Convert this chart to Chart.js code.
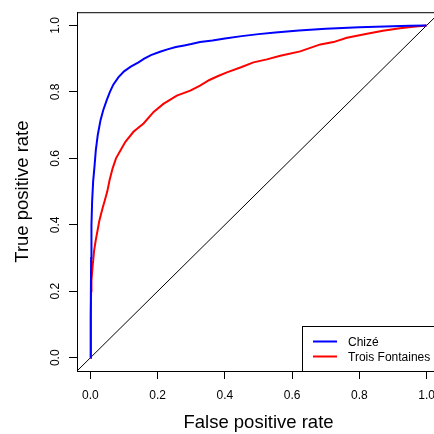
<!DOCTYPE html>
<html>
<head>
<meta charset="utf-8">
<script src="https://cdn.jsdelivr.net/npm/chart.js@4.4.1/dist/chart.umd.min.js"></script>
<style>
html, body { margin: 0; padding: 0; overflow: hidden; background: #fff; width: 434px; height: 434px; }
canvas { position: absolute; left: 0; top: 0; }
</style>
</head>
<body>
<canvas id="roc" width="450" height="434"></canvas>
<script>
// ROC curves, values
var chizeFpr = [0, 0.001, 0.002, 0.003, 0.005, 0.008, 0.012, 0.016, 0.022, 0.030, 0.038, 0.049, 0.058, 0.068, 0.083,
  0.10, 0.12, 0.143, 0.16, 0.18, 0.207, 0.229, 0.254, 0.279, 0.30, 0.326, 0.363, 0.40, 0.45, 0.50, 0.55, 0.62, 0.70, 0.80, 0.90, 0.95, 1];
var chizeTpr = [0, 0.15, 0.30, 0.40, 0.47, 0.53, 0.575, 0.625, 0.672, 0.715, 0.745, 0.777, 0.80, 0.822, 0.844,
  0.862, 0.876, 0.889, 0.900, 0.911, 0.921, 0.928, 0.935, 0.940, 0.944, 0.950, 0.955, 0.961, 0.968, 0.974, 0.979, 0.985, 0.990, 0.995, 0.998, 0.999, 1];

var troisFpr = [0, 0.001, 0.002, 0.003, 0.006, 0.011, 0.016, 0.021, 0.026, 0.031, 0.036, 0.042, 0.05, 0.057, 0.066, 0.076, 0.09,
  0.104, 0.128, 0.158, 0.188, 0.217, 0.257, 0.297, 0.326, 0.354, 0.38, 0.406, 0.45, 0.485, 0.525, 0.565, 0.624,
  0.684, 0.723, 0.763, 0.823, 0.87, 0.921, 0.96, 1];
var troisTpr = [0, 0.12, 0.20, 0.233, 0.27, 0.323, 0.355, 0.382, 0.41, 0.43, 0.45, 0.471, 0.50, 0.535, 0.57, 0.60, 0.625,
  0.65, 0.68, 0.705, 0.74, 0.764, 0.789, 0.804, 0.819, 0.836, 0.848, 0.859, 0.875, 0.889, 0.898, 0.909, 0.922,
  0.943, 0.950, 0.963, 0.975, 0.984, 0.992, 0.996, 1];

// abline(0, 1) across the whole plot region
var diagX = [-0.04, 1.04];
var diagY = [-0.04, 1.04];

var tickVals = [0, 0.2, 0.4, 0.6, 0.8, 1.0];
var seriesNames = ["Chizé", "Trois Fontaines"];

function pts(xs, ys) {
  return xs.map(function (x, i) { return { x: x, y: ys[i] }; });
}

Chart.defaults.font.family = "'Liberation Sans', Arial, sans-serif";
Chart.defaults.color = "#000";

// box around the plot + legend in the bottom right corner
var boxAndLegend = {
  id: 'boxAndLegend',
  afterDatasetsDraw: function (chart) {
    var ctx = chart.ctx, a = chart.chartArea;
    ctx.save();
    ctx.strokeStyle = "#000";
    ctx.lineWidth = 1;
    ctx.strokeRect(a.left + 0.5, a.top + 0.5, a.right - a.left, a.bottom - a.top);

    var items = chart.data.datasets.filter(function (d) { return d.inLegend; });
    var w = 138, h = 45;
    var lx = a.right - w, ly = a.bottom - h;
    ctx.fillStyle = "#fff";
    ctx.fillRect(lx, ly, w, h);
    ctx.strokeRect(lx + 0.5, ly + 0.5, w, h);
    ctx.font = "12px 'Liberation Sans', Arial, sans-serif";
    ctx.textBaseline = "middle";
    items.forEach(function (d, i) {
      var yy = ly + 15.5 + i * 15;
      ctx.strokeStyle = d.borderColor;
      ctx.lineWidth = 2;
      ctx.beginPath();
      ctx.moveTo(lx + 11, yy);
      ctx.lineTo(lx + 35, yy);
      ctx.stroke();
      ctx.fillStyle = "#000";
      ctx.fillText(d.label, lx + 46, yy + 1);
    });
    ctx.restore();
  }
};

new Chart(document.getElementById("roc"), {
  type: 'scatter',
  data: {
    datasets: [{
      label: seriesNames[0],
      data: pts(chizeFpr, chizeTpr),
      borderColor: "#0000ff",
      borderWidth: 2,
      showLine: true,
      pointRadius: 0,
      inLegend: true
    }, {
      label: seriesNames[1],
      data: pts(troisFpr, troisTpr),
      borderColor: "#ff0000",
      borderWidth: 2,
      showLine: true,
      pointRadius: 0,
      inLegend: true
    }, {
      label: "diag",
      data: pts(diagX, diagY),
      borderColor: "#000",
      borderWidth: 1,
      showLine: true,
      pointRadius: 0
    }]
  },
  options: {
    responsive: false,
    animation: false,
    layout: { padding: { top: 9, right: 10, left: 0, bottom: 0 } },
    plugins: { legend: { display: false }, tooltip: { enabled: false } },
    scales: {
      x: {
        type: 'linear',
        min: -0.04,
        max: 1.04,
        afterBuildTicks: function (s) { s.ticks = tickVals.map(function (v) { return { value: v }; }); },
        afterFit: function (s) { s.height = 63; },
        grid: { drawOnChartArea: false, tickLength: 8, color: "#000" },
        border: { color: "#000", width: 1 },
        ticks: {
          padding: 9,
          maxRotation: 0,
          autoSkip: false,
          font: { size: 12 },
          callback: function (v) { return v.toFixed(1); }
        },
        title: { display: true, text: "False positive rate", font: { size: 18.5 }, padding: { top: 0, bottom: 0 } }
      },
      y: {
        type: 'linear',
        min: -0.04,
        max: 1.04,
        afterBuildTicks: function (s) { s.ticks = tickVals.map(function (v) { return { value: v }; }); },
        afterFit: function (s) { s.width = 77; },
        grid: { drawOnChartArea: false, tickLength: 8, color: "#000" },
        border: { color: "#000", width: 1 },
        ticks: {
          padding: 5,
          minRotation: 90,
          maxRotation: 90,
          crossAlign: 'center',
          autoSkip: false,
          font: { size: 12 },
          callback: function (v) { return v.toFixed(1); }
        },
        title: { display: true, text: "True positive rate", font: { size: 18.5 }, padding: { top: 12, bottom: 0 } }
      }
    }
  },
  plugins: [boxAndLegend]
});
</script>
</body>
</html>
